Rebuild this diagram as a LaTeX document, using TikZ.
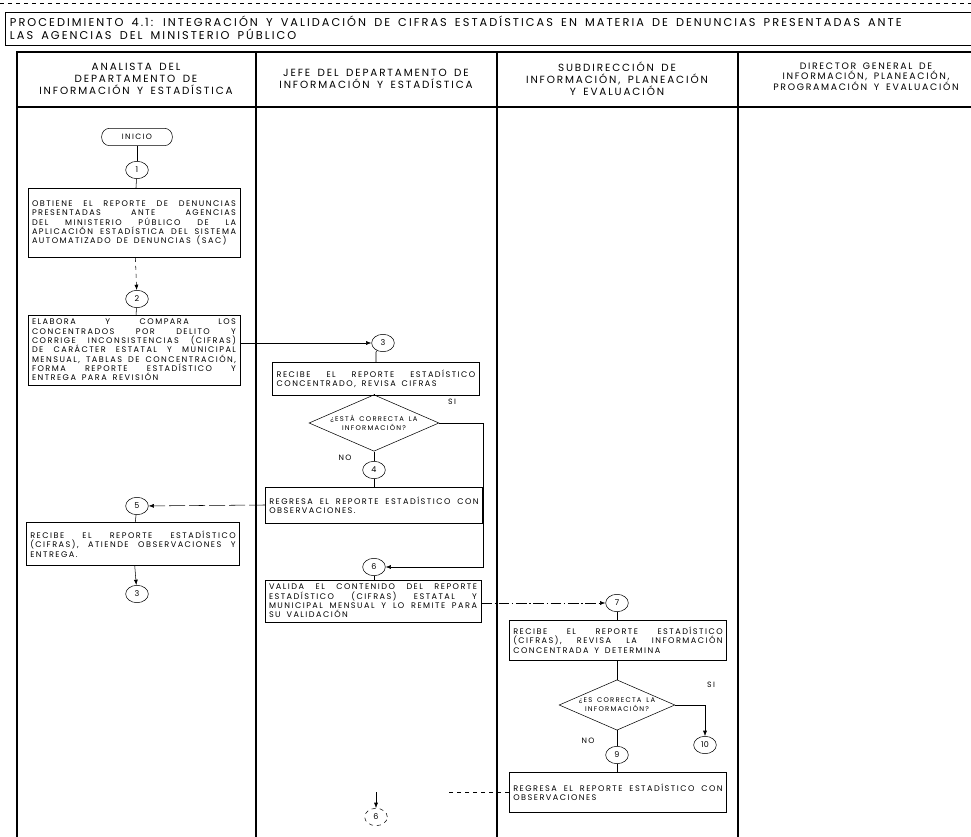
\documentclass[tikz,border=0pt]{standalone}
\usepackage{fontspec}
\setmainfont{Poppins}
\newfontfamily\widefont[LetterSpace=18, WordSpace={1.6,1.6,0.4}]{Poppins}
\usetikzlibrary{shapes.geometric,arrows.meta,positioning}
\hyphenpenalty=10000
\exhyphenpenalty=10000
\tolerance=9999

\begin{document}
\begin{tikzpicture}[x=0.75pt, y=-0.75pt,
  act/.style={rectangle, draw, thin, text width=#1, align=justify, inner sep=3pt, font=\widefont\fontsize{6.1}{7}\selectfont},
  act/.default=150pt,
  dec/.style={diamond, draw, thin, aspect=2.3, inner sep=0pt, inner xsep=3pt, align=center, font=\widefont\fontsize{5.1}{6.6}\selectfont},
  con/.style={ellipse, draw, thin, minimum width=17pt, minimum height=13pt, inner sep=0pt, font=\fontsize{6}{7}\selectfont},
  term/.style={rectangle, draw, thin, rounded corners=6pt, minimum width=53pt, minimum height=13pt, font=\widefont\fontsize{5.8}{7}\selectfont},
  hdr/.style={align=center, font=\widefont\fontsize{7.8}{9}\selectfont},
  lbl/.style={font=\widefont\fontsize{5.8}{7}\selectfont},
  arr/.style={-{Latex[length=4pt, width=3pt]}, thin},
  lin/.style={thin}
]
\clip (0,0) rectangle (971,837);

% marco del titulo y de la tabla
\draw[thin, dashed] (0,3) -- (971,3);
\draw[thin] (5,12) rectangle (980,45);
\node[anchor=north west, align=left, font=\widefont\fontsize{8.5}{9.8}\selectfont, inner sep=2pt] (tit) at (7,13)
  {PROCEDIMIENTO 4.1: INTEGRACIÓN Y VALIDACIÓN DE CIFRAS ESTADÍSTICAS EN MATERIA DE DENUNCIAS PRESENTADAS ANTE\\
   LAS AGENCIAS DEL MINISTERIO PÚBLICO};
\draw[line width=0.8pt] (17,52) rectangle (980,845);
\draw[line width=0.8pt] (17,107) -- (980,107);
\foreach \cx in {256,497,738}
  \draw[line width=0.8pt] (\cx,52) -- (\cx,845);

% encabezados
\node[hdr] (h1) at (136,79) {ANALISTA DEL\\DEPARTAMENTO DE\\INFORMACIÓN Y ESTADÍSTICA};
\node[hdr] (h2) at (376,79) {JEFE DEL DEPARTAMENTO DE\\INFORMACIÓN Y ESTADÍSTICA};
\node[hdr] (h3) at (617,79) {SUBDIRECCIÓN DE\\INFORMACIÓN, PLANEACIÓN\\Y EVALUACIÓN};
\node[hdr, font=\widefont\fontsize{7}{7.4}\selectfont] (h4) at (866,77) {DIRECTOR GENERAL DE\\INFORMACIÓN, PLANEACIÓN,\\PROGRAMACIÓN Y EVALUACIÓN};

% analista
\node[term] (ini) at (137,137) {INICIO};
\node[con] (c1) at (137,170) {1};
\node[act=153pt, minimum height=52pt] (b1) at (134,223)
  {OBTIENE EL REPORTE DE DENUNCIAS PRESENTADAS ANTE AGENCIAS DEL MINISTERIO PÚBLICO DE LA APLICACIÓN ESTADÍSTICA DEL SISTEMA AUTOMATIZADO DE DENUNCIAS (SAC)};
\node[con] (c2) at (137,299) {2};
\node[act=153pt, minimum height=47pt] (b2) at (134,350)
  {ELABORA Y COMPARA LOS CONCENTRADOS POR DELITO Y CORRIGE INCONSISTENCIAS (CIFRAS) DE CARÁCTER ESTATAL Y MUNICIPAL MENSUAL, TABLAS DE CONCENTRACIÓN, FORMA REPORTE ESTADÍSTICO Y ENTREGA PARA REVISIÓN};
\node[con] (c5) at (137,506) {5};
\node[act=154pt, minimum height=32pt] (b5) at (133,544)
  {RECIBE EL REPORTE ESTADÍSTICO (CIFRAS), ATIENDE OBSERVACIONES Y ENTREGA.};
\node[con] (c3b) at (137,594) {3};

% jefe del departamento
\node[con] (c3) at (383,343) {3};
\node[act=149pt, minimum height=25pt] (b3) at (376,379)
  {RECIBE EL REPORTE ESTADÍSTICO CONCENTRADO, REVISA CIFRAS};
\node[dec] (d1) at (374,423) {¿ESTÁ CORRECTA LA\\INFORMACIÓN?};
\node[lbl] (si1) at (452,402) {SI};
\node[lbl] (no1) at (345,458) {NO};
\coordinate (r1) at (483,423);
\node[con] (c4) at (374,470) {4};
\node[act=157pt, minimum height=27pt] (b4) at (374,505)
  {REGRESA EL REPORTE ESTADÍSTICO CON OBSERVACIONES.};
\node[con] (c6) at (374,567) {6};
\node[act=156pt, minimum height=28pt] (b6) at (373,601)
  {VALIDA EL CONTENIDO DEL REPORTE ESTADÍSTICO (CIFRAS) ESTATAL Y MUNICIPAL MENSUAL Y LO REMITE PARA SU VALIDACIÓN};
\coordinate (e6) at (376,792);
\node[con, dashed] (c6b) at (376,817) {6};

% subdireccion
\node[con] (c7) at (617,603) {7};
\node[act=157pt, minimum height=30pt] (b7) at (618,640)
  {RECIBE EL REPORTE ESTADÍSTICO (CIFRAS), REVISA LA INFORMACIÓN CONCENTRADA Y DETERMINA};
\node[dec] (d2) at (617,705) {¿ES CORRECTA LA\\INFORMACIÓN?};
\node[lbl] (si2) at (711,685) {SI};
\node[lbl] (no2) at (588,741) {NO};
\node[con] (c10) at (705,745) {10};
\node[con] (c9) at (617,755) {9};
\node[act=157pt, minimum height=30pt] (b8) at (618,792)
  {REGRESA EL REPORTE ESTADÍSTICO CON OBSERVACIONES};
\coordinate (e8) at (447,792);

% conectores
\draw[lin] (ini) -- (c1);  \draw[lin] (c1) -- (b1);
\draw[arr, dashed] (b1) -- (c2); \draw[lin] (c2) -- (b2);
\draw[arr] (b2.east |- c3) -- (c3);
\draw[lin] (c3) -- (b3 |- c3.south) -- (b3);
\draw[lin] (b3.south -| d1) -- (d1);
\draw[arr] (d1.east) -- (r1) |- (c6);
\draw[lin] (d1) -- (c4); \draw[lin] (c4) -- (b4);
\draw[arr, dash pattern=on 12pt off 3pt] (b4.west) -- (c5);
\draw[lin] (c5) -- (b5);
\draw[arr] (b5) -- (c3b);
\draw[lin] (c6) -- (c6 |- b6.north);
\draw[arr, dash pattern=on 8pt off 2pt on 1pt off 2pt] (b6.east |- c7) -- (c7);
\draw[lin] (c7) -- (c7 |- b7.north);
\draw[lin] (b7.south -| d2) -- (d2);
\draw[arr] (d2.east) -| (c10);
\draw[lin] (d2) -- (c9); \draw[lin] (c9) -- (c9 |- b8.north);
\draw[lin, dashed] (b8.west) -- (e8);
\draw[arr] (e6) -- (c6b);
\end{tikzpicture}
\end{document}
